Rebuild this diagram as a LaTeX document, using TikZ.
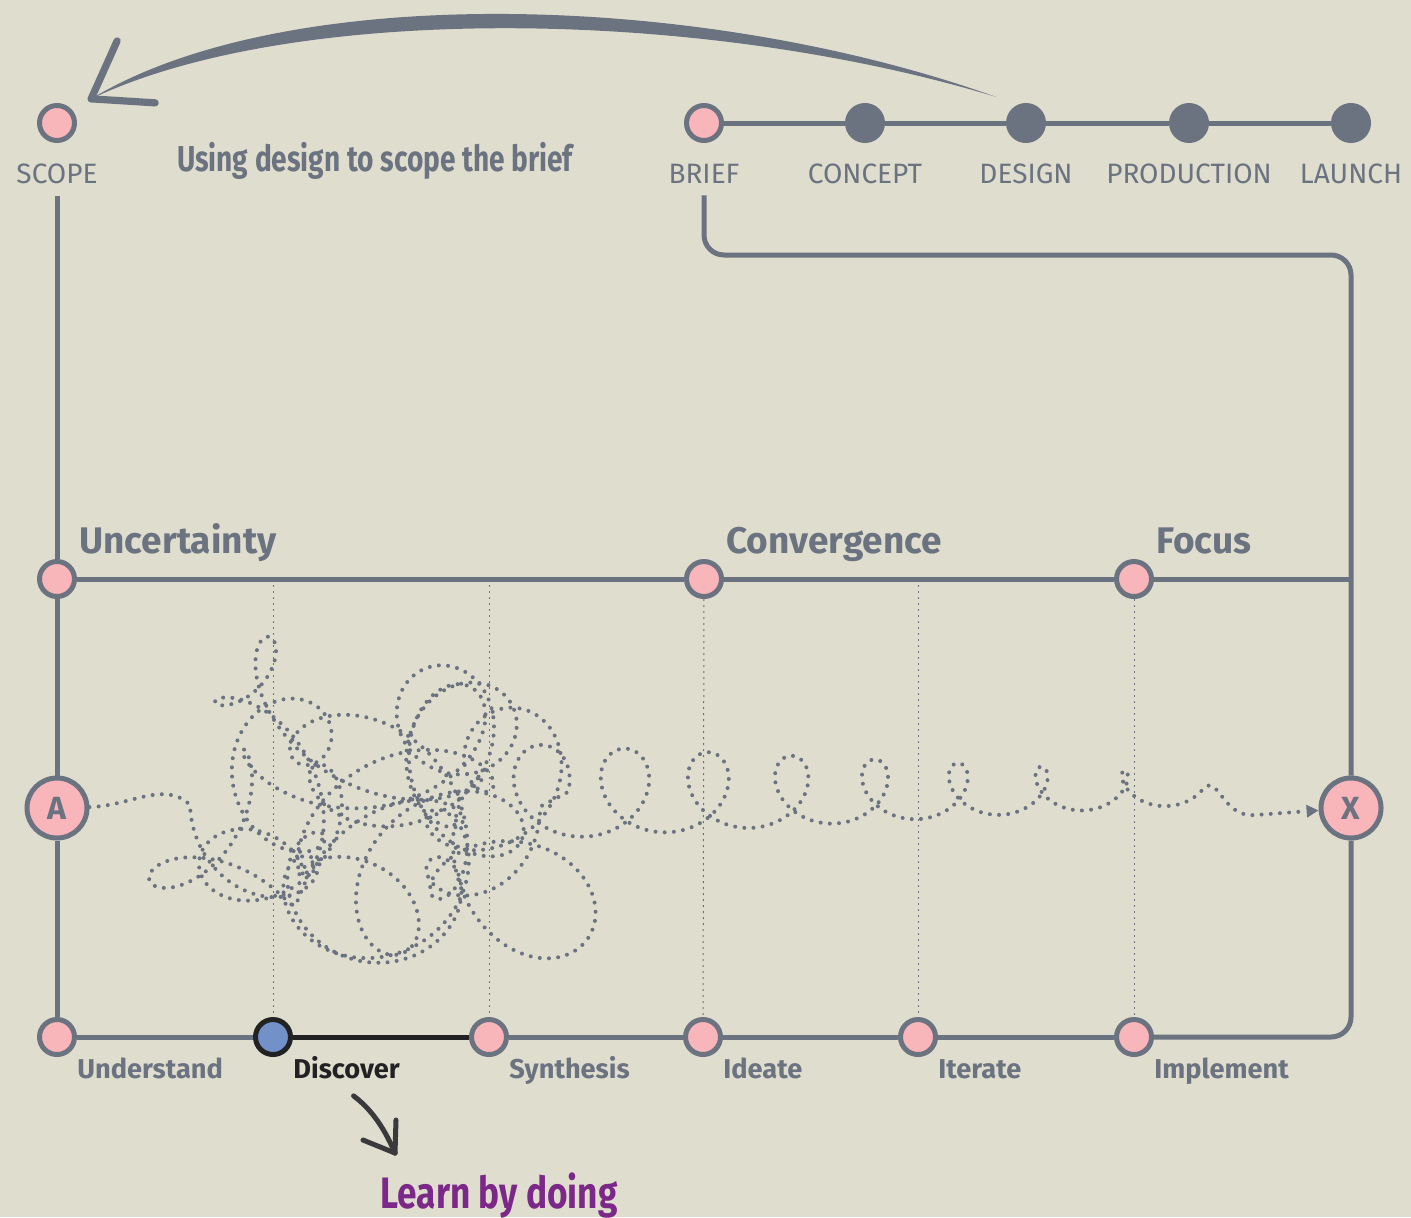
\documentclass[tikz,border=0pt]{standalone}
\usepackage{fontspec}
\setmainfont{Fira Sans}
\usetikzlibrary{arrows.meta}

\definecolor{bgc}{HTML}{DFDDCE}
\definecolor{linegray}{HTML}{6B7380}
\definecolor{pinkc}{HTML}{F8B5BA}
\definecolor{bluec}{HTML}{7391C9}
\definecolor{darkc}{HTML}{222222}
\definecolor{handc}{HTML}{3A3A3C}
\definecolor{purplec}{HTML}{7B2888}

\begin{document}
\begin{tikzpicture}[x=0.5pt, y=-0.5pt,
    dot/.style={circle, draw=linegray, line width=2.5pt, fill=pinkc, minimum size=17.5pt, inner sep=0pt},
    darkdot/.style={dot, fill=linegray},
    bigdot/.style={dot, minimum size=30pt, text=linegray, font=\bfseries\fontsize{16}{16}\selectfont},
    mainline/.style={draw=linegray, line width=2.5pt},
    guide/.style={draw=linegray, line width=0.5pt, dash pattern=on 1pt off 2pt},
    scribble/.style={draw=linegray, line width=2pt, line cap=round, dash pattern=on 0pt off 4.6pt},
    tlabel/.style={anchor=base, text=linegray, inner sep=6pt, yshift=-30pt, font=\fontsize{14}{14}\selectfont},
    mlabel/.style={anchor=base west, text=linegray, inner sep=0pt, xshift=11pt, yshift=13pt, font=\bfseries\fontsize{18.5}{18.5}\selectfont},
    blabel/.style={anchor=base west, text=linegray, inner sep=0pt, xshift=10pt, yshift=-20.5pt, font=\bfseries\fontsize{13.6}{13.6}\selectfont},
    barb/.style={draw=linegray, line width=3.6pt, line cap=round},
    handline/.style={draw=handc, line width=2.5pt, line cap=round}]

    \path[use as bounding box, fill=bgc] (0,0) rectangle (1411,1217);

    % top timeline
    \node[dot] (scope) at (57,123) {};
    \node[dot] (brief) at (704,123) {};
    \node[darkdot] (concept) at (865,123) {};
    \node[darkdot] (design) at (1026,123) {};
    \node[darkdot] (production) at (1189,123) {};
    \node[darkdot] (launch) at (1351,123) {};

    \node[tlabel] (lScope) at (scope) {SCOPE};
    \node[tlabel] (lBrief) at (brief) {BRIEF};
    \node[tlabel] (lConcept) at (concept) {CONCEPT};
    \node[tlabel] (lDesign) at (design) {DESIGN};
    \node[tlabel] (lProduction) at (production) {PRODUCTION};
    \node[tlabel] (lLaunch) at (launch) {LAUNCH};

    \node[anchor=base, text=linegray, inner sep=0pt, font=\bfseries\fontsize{18}{18}\selectfont] (scopeNote) at (375,171) {\scalebox{0.78}[1]{Using design to scope the brief}};

    % middle and bottom rows
    \node[dot] (uncert) at (57,579) {};
    \node[dot] (converg) at (704,579) {};
    \node[dot] (focus) at (1134,579) {};
    \node[bigdot] (A) at (57,808) {A};
    \node[bigdot] (X) at (1351,808) {X};
    \node[dot] (understand) at (57,1037) {};
    \node[dot, fill=bluec, draw=darkc] (discover) at (273,1037) {};
    \node[dot] (synthesis) at (489,1037) {};
    \node[dot] (ideate) at (703,1037) {};
    \node[dot] (iterate) at (918,1037) {};
    \node[dot] (implement) at (1134,1037) {};

    \node[mlabel] (lUncert) at (uncert) {Uncertainty};
    \node[mlabel] (lConverg) at (converg) {Convergence};
    \node[mlabel] (lFocus) at (focus) {Focus};

    \node[blabel] (lUnderstand) at (understand) {Understand};
    \node[blabel, text=darkc] (lDiscover) at (discover) {Discover};
    \node[blabel] (lSynthesis) at (synthesis) {Synthesis};
    \node[blabel] (lIdeate) at (ideate) {Ideate};
    \node[blabel] (lIterate) at (iterate) {Iterate};
    \node[blabel] (lImplement) at (implement) {Implement};

    \node[anchor=base, text=purplec, inner sep=0pt, font=\bfseries\fontsize{22}{22}\selectfont] (learn) at (499,1208) {\scalebox{0.8}[1]{Learn by doing}};

    \coordinate (turn) at (1351,255);
    \coordinate (designTail) at ([shift={(-8pt,6pt)}]design.north west);
    \coordinate (scopeTip) at ([shift={(10pt,5pt)}]scope.north east);
    \coordinate (learnTip) at (395,1153);

    % dotted guides
    \draw[guide] (discover |- uncert) -- (discover);
    \draw[guide] (synthesis |- uncert) -- (synthesis);
    \draw[guide] (converg) -- (ideate);
    \draw[guide] (iterate |- uncert) -- (iterate);
    \draw[guide] (focus) -- (implement);

    % the messy path from A to X
    \draw[scribble, -{Triangle[length=6pt,width=6pt]}] (A) .. controls (130,806) and (165,780) .. (190,805)
        -- plot[domain=0:1, samples=2600, variable=\s]
           ({365+130*sin(1620*\s+270)+(45+20*sin(180*\s)*sin(1500*\s))*sin(8100*\s+270)+40*sin(180*\s)*sin(2900*\s+30)+25*sin(540*\s)},
            {805+92*sin(1980*\s)+(45+20*sin(180*\s)*sin(1500*\s))*cos(8100*\s+270)+35*sin(180*\s)*cos(2300*\s)+28*sin(900*\s)})
        -- plot[domain=0:1, samples=600, variable=\s]
           ({520+667*\s+(48-32*\s)*cos(2880*\s)},
            {840-35*\s-(48-32*\s)*(1+sin(2880*\s))})
        .. controls (1218,772) and (1222,818) .. (1255,815) -- (X);

    % frame lines
    \draw[mainline] (lScope) -- (uncert) -- (A) -- (understand);
    \draw[mainline, rounded corners=10pt] (lBrief.south) |- (turn) -- (X);
    \draw[mainline, rounded corners=10pt] (X) |- (implement);
    \draw[mainline] (uncert) -- (converg) -- (focus) -- (X |- focus);
    \draw[mainline] (brief) -- (concept) -- (design) -- (production) -- (launch);
    \draw[mainline] (understand) -- (discover);
    \draw[mainline, draw=darkc] (discover) -- (synthesis);
    \draw[mainline] (synthesis) -- (ideate) -- (iterate) -- (implement);

    % design back to scope
    \fill[linegray] (designTail) .. controls (700,-9) and (285,-19) .. (scopeTip)
        .. controls (292,3) and (700,7) .. (designTail) -- cycle;
    \draw[barb] (scopeTip) -- ++(13pt,29pt);
    \draw[barb] (scopeTip) -- ++(32pt,-2pt);

    % discover to learn by doing
    \draw[handline] ([shift={(3.5pt,-8.5pt)}]lDiscover.south) .. controls +(8pt,-6pt) and +(-6pt,14pt) .. (learnTip);
    \draw[handline] (learnTip) -- ++(0.5pt,16.5pt);
    \draw[handline] (learnTip) -- ++(-16pt,6.5pt);
\end{tikzpicture}
\end{document}
